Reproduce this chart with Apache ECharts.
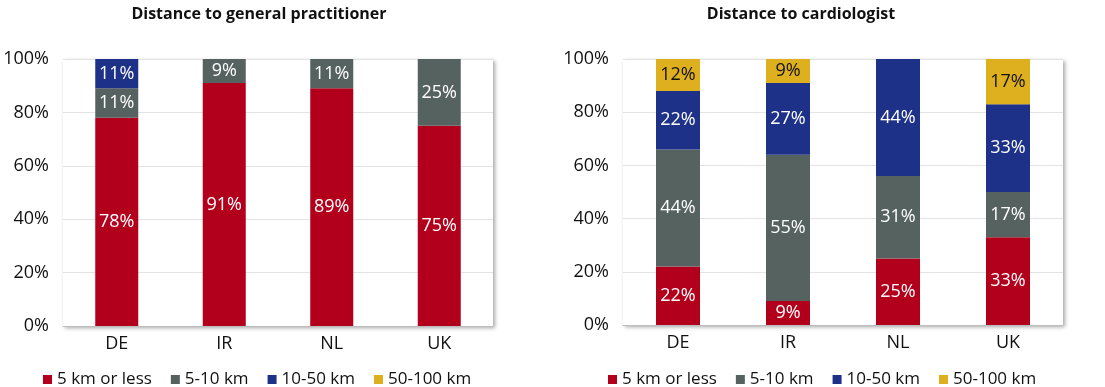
<!DOCTYPE html>
<html>
<head>
<meta charset="utf-8">
<script src="https://cdn.jsdelivr.net/npm/echarts@6/dist/echarts.min.js"></script>
<style>
html,body{margin:0;padding:0;background:#fff;}
#chart{width:1105px;height:387px;}
</style>
</head>
<body>
<div id="chart"></div>
<script>
const categories = ['DE', 'IR', 'NL', 'UK'];
const seriesNames = ['5 km or less', '5-10 km', '10-50 km', '50-100 km'];
const yTicks = [0, 20, 40, 60, 80, 100];
// Distance to general practitioner (%)
const gpUnder5 = [78, 91, 89, 75];
const gp5to10 = [11, 9, 11, 25];
const gp10to50 = [11, 0, 0, 0];
const gp50to100 = [0, 0, 0, 0];
// Distance to cardiologist (%)
const cardUnder5 = [22, 9, 25, 33];
const card5to10 = [44, 55, 31, 17];
const card10to50 = [22, 27, 44, 33];
const card50to100 = [12, 9, 0, 17];

const titles = ['Distance to general practitioner', 'Distance to cardiologist'];
const colors = ['#b2001c', '#56625f', '#1e3188', '#deb01f'];
const labelColors = ['#ffffff', '#ffffff', '#ffffff', '#111111'];
const FONT = 'Open Sans';

const panels = [
  [gpUnder5, gp5to10, gp10to50, gp50to100],
  [cardUnder5, card5to10, card10to50, card50to100]
];
const grids = [
  {left: 63, right: 1105 - 493, top: 59, bottom: 387 - 326},
  {left: 623, right: 1105 - 1063, top: 59, bottom: 387 - 325}
];

const series = [];
panels.forEach((panel, p) => {
  panel.forEach((vals, i) => {
    series.push({
      name: seriesNames[i],
      type: 'bar',
      stack: 'p' + p,
      xAxisIndex: p,
      yAxisIndex: p,
      barWidth: '40%',
      itemStyle: {color: colors[i]},
      data: vals.map(v => v === 0 ? null : v),
      label: {
        show: true,
        position: 'inside',
        color: labelColors[i],
        fontFamily: FONT,
        fontSize: 18,
        formatter: d => d.value ? d.value + '%' : ''
      }
    });
  });
});

const chart = echarts.init(document.getElementById('chart'), null, {renderer: 'canvas'});
chart.setOption({
  animation: false,
  color: colors,
  title: [
    {text: titles[0], left: 254, top: 1, textAlign: 'center',
     textStyle: {fontFamily: FONT, fontWeight: 'bold', fontSize: 16, color: '#111'}},
    {text: titles[1], left: 796, top: 1, textAlign: 'center',
     textStyle: {fontFamily: FONT, fontWeight: 'bold', fontSize: 16, color: '#111'}}
  ],
  legend: [
    {data: seriesNames, left: 38, top: 366, itemWidth: 9, itemHeight: 9, itemGap: 19,
     icon: 'rect', textStyle: {fontFamily: FONT, fontSize: 17, color: '#111'}},
    {data: seriesNames, left: 603, top: 366, itemWidth: 9, itemHeight: 9, itemGap: 19,
     icon: 'rect', textStyle: {fontFamily: FONT, fontSize: 17, color: '#111'}}
  ],
  grid: grids.map(g => Object.assign({
    show: true, backgroundColor: '#fff', borderWidth: 0,
    shadowBlur: 4, shadowColor: 'rgba(0,0,0,0.35)', shadowOffsetX: 2, shadowOffsetY: 2
  }, g)),
  xAxis: [0, 1].map(i => ({
    type: 'category', gridIndex: i, data: categories,
    axisLine: {lineStyle: {color: '#bdbdbd'}},
    axisTick: {show: false},
    axisLabel: {fontFamily: FONT, fontSize: 18, color: '#111', margin: 9}
  })),
  yAxis: [0, 1].map(i => ({
    type: 'value', gridIndex: i, min: yTicks[0], max: yTicks[yTicks.length - 1], interval: 20,
    axisLine: {show: false}, axisTick: {show: false},
    splitLine: {lineStyle: {color: '#e3e3e3'}},
    axisLabel: {fontFamily: FONT, fontSize: 18, color: '#111', margin: 14, formatter: v => v + '%'}
  })),
  series: series
});
</script>
</body>
</html>
